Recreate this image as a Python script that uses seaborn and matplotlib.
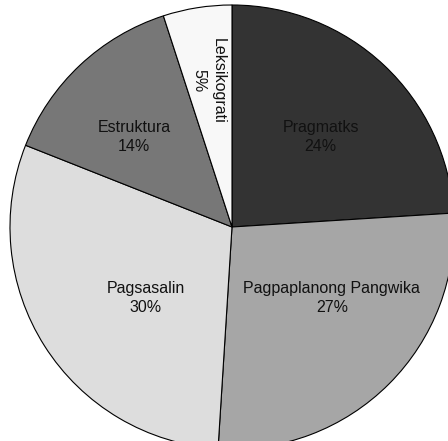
import matplotlib
matplotlib.use("Agg")
import matplotlib.pyplot as plt
import seaborn as sns

# Data
categories = ["Pragmatks", "Pagpaplanong Pangwika", "Pagsasalin", "Estruktura", "Leksikograti"]
shares = [24, 27, 30, 14, 5]
colors = ["#333333", "#a6a6a6", "#dddddd", "#777777", "#f8f8f8"]

# label placement (pie radius = 1) and rotation
label_pos = [(0.40, 0.405), (0.45, -0.32), (-0.39, -0.32), (-0.44, 0.405), (-0.105, 0.66)]
label_rot = [0, 0, 0, 0, -90]

sns.set_theme(style="white")
plt.rcParams["font.family"] = ["Liberation Sans", "DejaVu Sans"]

fig = plt.figure(figsize=(4.48, 4.41), dpi=100)
ax = fig.add_axes([0, 0, 1, 1])

wedges, _ = ax.pie(shares, colors=colors, startangle=90, counterclock=False,
                   wedgeprops=dict(edgecolor="black", linewidth=0.8))

for name, val, (x, y), rot in zip(categories, shares, label_pos, label_rot):
    ax.text(x, y, f"{name}\n{val}%", ha="center", va="center", fontsize=11.5,
            color="#111111", rotation=rot, linespacing=1.35)

# pie is cut off on the right and bottom in the original
ax.set_xlim(-1.045, 0.973)
ax.set_ylim(-0.964, 1.0225)
ax.set_aspect("equal")
ax.axis("off")

fig.savefig("out.png", dpi=100, facecolor="white")
